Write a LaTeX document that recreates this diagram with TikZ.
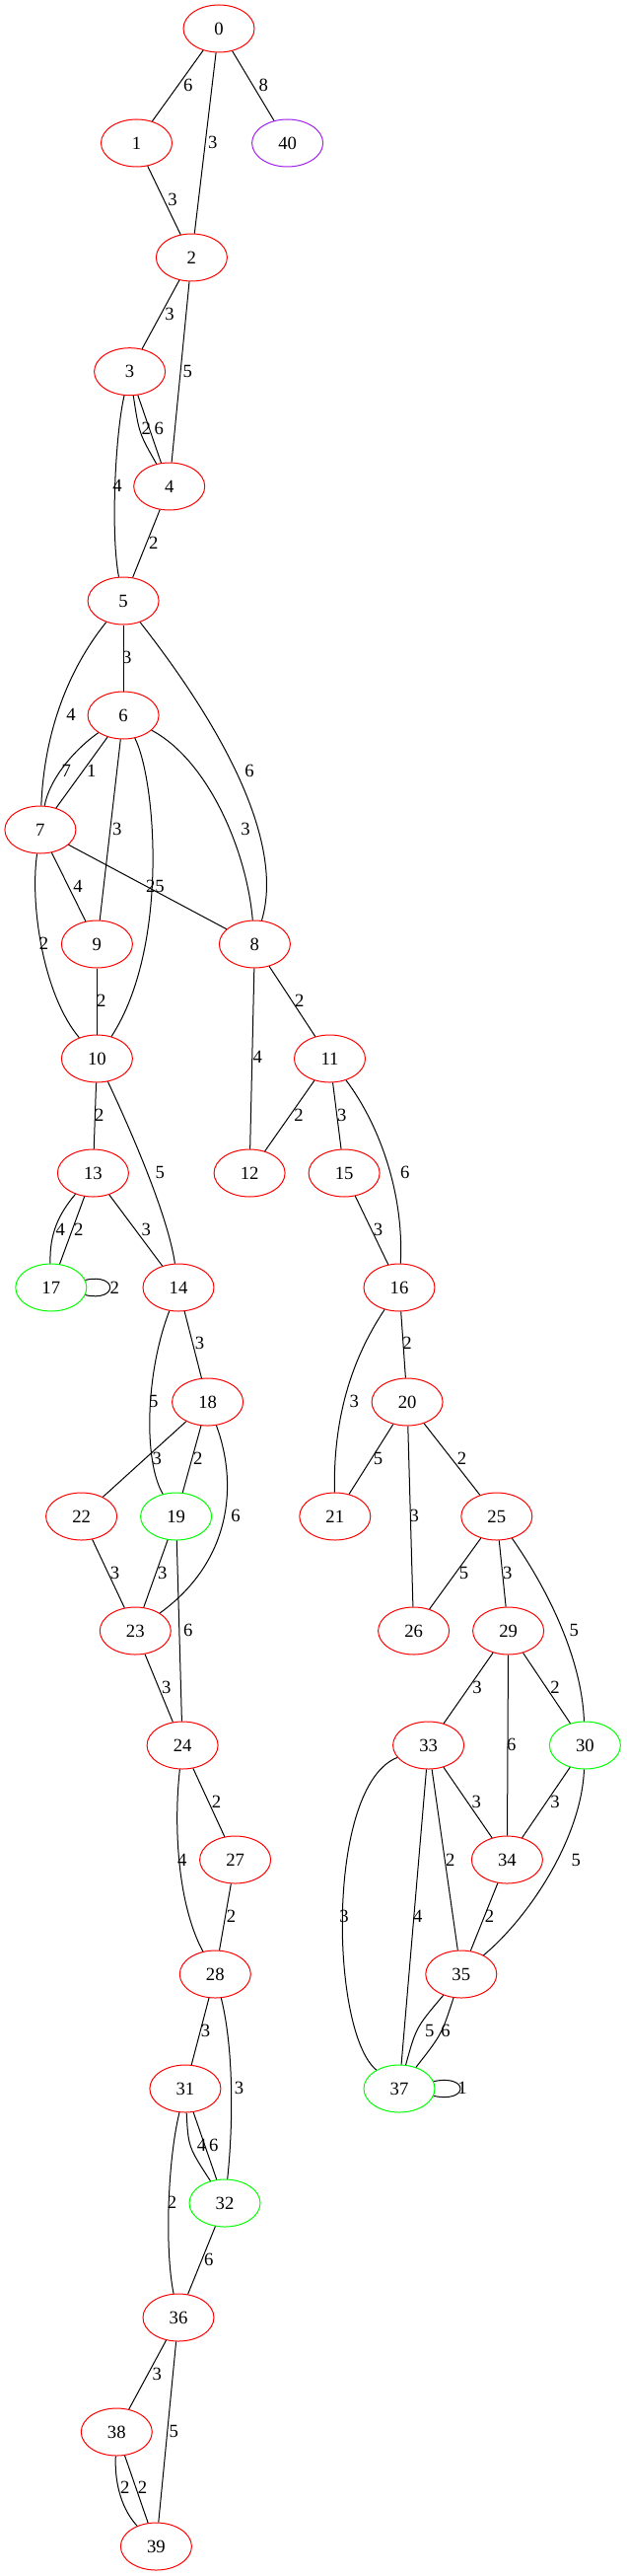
\documentclass[tikz,border=0pt]{standalone}
\usepackage{fontspec}
\setmainfont{Liberation Serif}
\usetikzlibrary{shapes.geometric}
\definecolor{gvred}{RGB}{255,0,0}
\definecolor{gvgreen}{RGB}{0,255,0}
\definecolor{gvpurple}{RGB}{160,32,240}
\begin{document}
\begin{tikzpicture}[x=0.75pt,y=-0.75pt,
  gv/.style={ellipse,draw,minimum width=54pt,minimum height=36pt,inner sep=0pt,line width=0.75pt,font=\fontsize{14}{16}\selectfont},
  rn/.style={gv,draw=gvred},
  gn/.style={gv,draw=gvgreen},
  pn/.style={gv,draw=gvpurple},
  lbl/.style={inner sep=0pt,font=\fontsize{14}{16}\selectfont},
  edge/.style={line width=0.75pt,black}]
\useasboundingbox (0,0) rectangle (635,2611);
% nodes
\node[rn] (n0) at (222,29) {0};
\node[rn] (n1) at (138.5,145) {1};
\node[pn] (n40) at (291.6,145) {40};
\node[rn] (n2) at (194.4,261) {2};
\node[rn] (n3) at (131.6,376.7) {3};
\node[rn] (n4) at (171.7,493) {4};
\node[rn] (n5) at (125.1,609) {5};
\node[rn] (n6) at (125.1,725) {6};
\node[rn] (n7) at (40.9,841) {7};
\node[rn] (n9) at (98.4,957) {9};
\node[rn] (n8) at (258.4,957) {8};
\node[rn] (n10) at (98.4,1073) {10};
\node[rn] (n11) at (334.5,1073) {11};
\node[rn] (n13) at (94.4,1189) {13};
\node[rn] (n12) at (253.1,1189) {12};
\node[rn] (n15) at (349.1,1189) {15};
\node[gn] (n17) at (51.8,1305) {17};
\node[rn] (n14) at (181,1305) {14};
\node[rn] (n16) at (405,1305) {16};
\node[rn] (n18) at (210.6,1421) {18};
\node[rn] (n20) at (413.1,1421) {20};
\node[rn] (n22) at (82.6,1537) {22};
\node[gn] (n19) at (178.6,1537) {19};
\node[rn] (n21) at (339.8,1537) {21};
\node[rn] (n25) at (503.8,1537) {25};
\node[rn] (n23) at (137.3,1653) {23};
\node[rn] (n26) at (419.6,1653) {26};
\node[rn] (n29) at (515.6,1653) {29};
\node[rn] (n24) at (185.1,1769) {24};
\node[rn] (n33) at (434.6,1769) {33};
\node[gn] (n30) at (593.4,1769) {30};
\node[rn] (n27) at (238.6,1885) {27};
\node[rn] (n34) at (514.4,1885) {34};
\node[rn] (n28) at (218.3,2001) {28};
\node[rn] (n35) at (467.8,2001) {35};
\node[rn] (n31) at (187.9,2117) {31};
\node[gn] (n37) at (405,2117) {37};
\node[gn] (n32) at (228,2233) {32};
\node[rn] (n36) at (181,2349) {36};
\node[rn] (n38) at (118.3,2465) {38};
\node[rn] (n39) at (158.4,2581) {39};
% edges
\draw[edge] (n0) -- (n1) node[lbl] (e1) at (190.8,86) {6};
\draw[edge] (n0) -- (n2) node[lbl] (e2) at (215.9,144) {3};
\draw[edge] (n0) -- (n40) node[lbl] (e3) at (267.3,86) {8};
\draw[edge] (n1) -- (n2) node[lbl] (e4) at (175,202) {3};
\draw[edge] (n2) -- (n3) node[lbl] (e5) at (172.1,318.3) {3};
\draw[edge] (n2) -- (n4) node[lbl] (e6) at (190.4,376) {5};
\draw[edge] (n3) .. controls (141,439) .. (n4) node[lbl] (e7) at (148.2,434.3) {2};
\draw[edge] (n3) -- (n4) node[lbl] (e8) at (161.2,434.3) {6};
\draw[edge] (n3) .. controls (117,440) and (112,540) .. (n5) node[lbl] (e9) at (119,492) {4};
\draw[edge] (n4) -- (n5) node[lbl] (e10) at (155.9,550) {2};
\draw[edge] (n5) -- (n6) node[lbl] (e11) at (128.8,666) {3};
\draw[edge] (n5) .. controls (60,690) and (44,760) .. (n7) node[lbl] (e12) at (72.1,724.7) {4};
\draw[edge] (n5) .. controls (220,730) and (290,850) .. (n8) node[lbl] (e13) at (253.1,781.7) {6};
\draw[edge] (n6) .. controls (75,760) and (50,790) .. (n7) node[lbl] (e14) at (67.2,781.7) {7};
\draw[edge] (n6) -- (n7) node[lbl] (e15) at (92.7,781.7) {1};
\draw[edge] (n6) -- (n9) node[lbl] (e16) at (118.7,840) {3};
\draw[edge] (n6) .. controls (210,770) and (250,860) .. (n8) node[lbl] (e17) at (249.1,840) {3};
\draw[edge] (n7) -- (n8) node[lbl] (e18) at (152.7,898) {2};
\draw[edge] (n6) .. controls (158,790) and (172,960) .. (n10) node[lbl] (e19) at (162,898) {5};
\draw[edge] (n7) -- (n9) node[lbl] (e20) at (79,898.3) {4};
\draw[edge] (n7) .. controls (30,920) and (45,1010) .. (n10) node[lbl] (e21) at (44.6,956.7) {2};
\draw[edge] (n9) -- (n10) node[lbl] (e22) at (102.9,1014.3) {2};
\draw[edge] (n8) -- (n12) node[lbl] (e23) at (261.2,1071.7) {4};
\draw[edge] (n8) -- (n11) node[lbl] (e24) at (303.8,1014.3) {2};
\draw[edge] (n10) -- (n13) node[lbl] (e25) at (100.8,1130) {2};
\draw[edge] (n10) .. controls (130,1140) and (170,1230) .. (n14) node[lbl] (e26) at (162.4,1188.3) {5};
\draw[edge] (n11) -- (n12) node[lbl] (e27) at (303,1130) {2};
\draw[edge] (n11) -- (n15) node[lbl] (e28) at (346.7,1130) {3};
\draw[edge] (n11) .. controls (385,1140) and (410,1210) .. (n16) node[lbl] (e29) at (410.7,1188.3) {6};
\draw[edge] (n13) .. controls (60,1230) and (50,1250) .. (n17) node[lbl] (e30) at (61.2,1246.7) {4};
\draw[edge] (n13) -- (n17) node[lbl] (e31) at (79.8,1246.7) {2};
\draw[edge] (n13) -- (n14) node[lbl] (e32) at (148.2,1246.7) {3};
\draw[edge] (n15) -- (n16) node[lbl] (e33) at (383.6,1246.7) {3};
\draw[edge] (n17) .. controls (120,1290) and (120,1320) .. (n17) node[lbl] (e34) at (116.2,1305) {2};
\draw[edge] (n14) -- (n18) node[lbl] (e35) at (202.5,1361.7) {3};
\draw[edge] (n14) .. controls (148,1390) and (145,1480) .. (n19) node[lbl] (e36) at (155.9,1420) {5};
\draw[edge] (n16) .. controls (355,1380) and (338,1440) .. (n21) node[lbl] (e37) at (359.3,1420) {3};
\draw[edge] (n16) -- (n20) node[lbl] (e38) at (413.1,1361.7) {2};
\draw[edge] (n18) -- (n22) node[lbl] (e39) at (159.2,1478.3) {3};
\draw[edge] (n18) -- (n19) node[lbl] (e40) at (200.9,1478.3) {2};
\draw[edge] (n18) .. controls (240,1500) and (238,1580) .. (n23) node[lbl] (e41) at (239,1536.7) {6};
\draw[edge] (n20) -- (n21) node[lbl] (e42) at (383.6,1478.3) {5};
\draw[edge] (n20) -- (n26) node[lbl] (e43) at (420.4,1536.7) {3};
\draw[edge] (n20) -- (n25) node[lbl] (e44) at (468.6,1478.3) {2};
\draw[edge] (n22) -- (n23) node[lbl] (e45) at (116.6,1594) {3};
\draw[edge] (n19) -- (n23) node[lbl] (e46) at (164.8,1594) {3};
\draw[edge] (n19) -- (n24) node[lbl] (e47) at (190.8,1652.3) {6};
\draw[edge] (n25) -- (n26) node[lbl] (e48) at (470.6,1594) {5};
\draw[edge] (n25) -- (n29) node[lbl] (e49) at (514.8,1594) {3};
\draw[edge] (n25) .. controls (555,1610) and (590,1680) .. (n30) node[lbl] (e50) at (582.4,1652.3) {5};
\draw[edge] (n23) -- (n24) node[lbl] (e51) at (168.9,1710) {3};
\draw[edge] (n29) -- (n33) node[lbl] (e52) at (484,1710) {3};
\draw[edge] (n29) -- (n30) node[lbl] (e53) at (563,1710) {2};
\draw[edge] (n29) -- (n34) node[lbl] (e54) at (518.8,1768.3) {6};
\draw[edge] (n24) -- (n27) node[lbl] (e55) at (219.5,1826.7) {2};
\draw[edge] (n24) .. controls (176,1850) and (180,1930) .. (n28) node[lbl] (e56) at (184.7,1885) {4};
\draw[edge] (n27) -- (n28) node[lbl] (e57) at (234.5,1942.7) {2};
\draw[edge] (n33) .. controls (330,1810) and (335,2060) .. (n37) node[lbl] (e58) at (349.1,1942.7) {3};
\draw[edge] (n33) -- (n37) node[lbl] (e59) at (423.7,1942.7) {4};
\draw[edge] (n33) -- (n35) node[lbl] (e60) at (456.9,1885) {2};
\draw[edge] (n33) -- (n34) node[lbl] (e61) at (483.2,1826.7) {3};
\draw[edge] (n30) -- (n34) node[lbl] (e62) at (563,1826.7) {3};
\draw[edge] (n30) .. controls (590,1860) and (540,1940) .. (n35) node[lbl] (e63) at (584.4,1885) {5};
\draw[edge] (n34) -- (n35) node[lbl] (e64) at (496.6,1942.7) {2};
\draw[edge] (n35) .. controls (422,2055) .. (n37) node[lbl] (e65) at (435.8,2058.3) {5};
\draw[edge] (n35) .. controls (448,2062) .. (n37) node[lbl] (e66) at (452,2058.3) {6};
\draw[edge] (n37) .. controls (476,2102) and (476,2132) .. (n37) node[lbl] (e67) at (469,2116.7) {1};
\draw[edge] (n28) -- (n31) node[lbl] (e68) at (208.6,2058.3) {3};
\draw[edge] (n28) .. controls (238,2080) and (236,2160) .. (n32) node[lbl] (e69) at (242.6,2116.7) {3};
\draw[edge] (n31) .. controls (191,2176) .. (n32) node[lbl] (e70) at (204.5,2174) {4};
\draw[edge] (n31) -- (n32) node[lbl] (e71) at (216.7,2174) {6};
\draw[edge] (n31) .. controls (170,2190) and (167,2280) .. (n36) node[lbl] (e72) at (174.6,2232.7) {2};
\draw[edge] (n32) -- (n36) node[lbl] (e73) at (211.8,2290) {6};
\draw[edge] (n36) -- (n38) node[lbl] (e74) at (159.2,2406) {3};
\draw[edge] (n36) -- (n39) node[lbl] (e75) at (176.2,2464) {5};
\draw[edge] (n38) .. controls (116,2520) and (125,2545) .. (n39) node[lbl] (e76) at (126.8,2521.7) {2};
\draw[edge] (n38) -- (n39) node[lbl] (e77) at (144.6,2521.7) {2};
\end{tikzpicture}
\end{document}
